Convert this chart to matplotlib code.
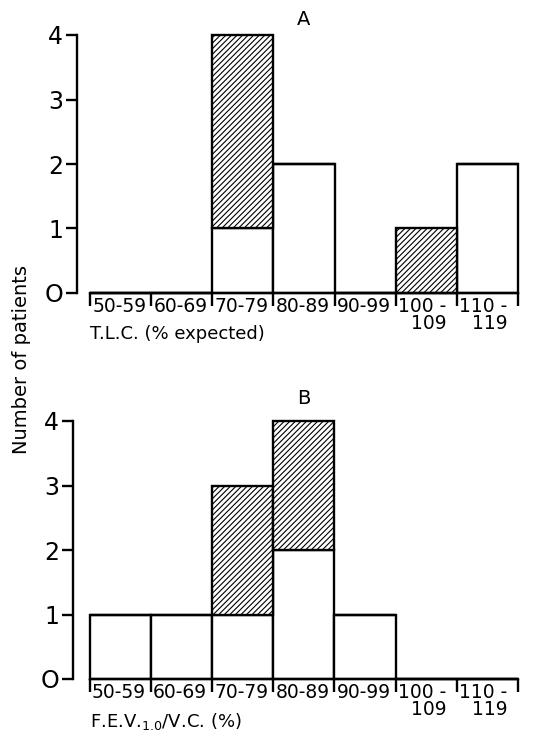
import numpy as np
import matplotlib.pyplot as plt

# class intervals (shared by both panels)
bins = ['50-59', '60-69', '70-79', '80-89', '90-99', '100 -\n109', '110 -\n119']

# panel A: T.L.C. (% expected)
a_open = [0, 0, 1, 2, 0, 0, 2]
a_hatched = [0, 0, 3, 0, 0, 1, 0]

# panel B: F.E.V.1.0 / V.C. (%)
b_open = [1, 1, 1, 2, 1, 0, 0]
b_hatched = [0, 0, 2, 2, 0, 0, 0]

plt.rcParams['hatch.linewidth'] = 0.8
W, H = 547, 739
fig = plt.figure(figsize=(W / 100, H / 100), dpi=100)


def panel(rect, xleft, open_, hatched, title, title_y, xlabel):
    ax = fig.add_axes(rect)
    x = np.arange(len(bins))
    ax.bar(x, open_, width=1, align='edge', color='white', edgecolor='black',
           linewidth=1.7, clip_on=False)
    ax.bar(x, hatched, bottom=open_, width=1, align='edge', color='white',
           edgecolor='black', hatch='//////', linewidth=1.7, clip_on=False)

    ax.set_xlim(xleft, len(bins))
    ax.set_ylim(0, 4)
    for s in ['top', 'right']:
        ax.spines[s].set_visible(False)
    ax.spines['left'].set_bounds(0, 4)
    ax.spines['bottom'].set_bounds(0, len(bins))
    for s in ['left', 'bottom']:
        ax.spines[s].set_linewidth(1.7)

    ax.set_yticks([0, 1, 2, 3, 4])
    ax.set_yticklabels(['O', '1', '2', '3', '4'])
    ax.tick_params(axis='y', length=8, width=1.7, labelsize=17, pad=2)
    ax.set_xticks(np.arange(len(bins) + 1))
    ax.set_xticklabels([])
    ax.tick_params(axis='x', length=9, width=1.7, direction='out')

    for i, lab in enumerate(bins):
        ax.text(i + 0.04, -0.06, lab, ha='left', va='top', fontsize=13.5,
                multialignment='right', linespacing=0.9)
    ax.text(0, -0.5, xlabel, ha='left', va='top', fontsize=13)
    ax.text(3.5, title_y, title, ha='center', va='bottom', fontsize=14)
    return ax


panel([77 / W, 1 - 293 / H, 441 / W, 258 / H], -0.21, a_open, a_hatched,
      'A', 4.1, 'T.L.C. (% expected)')
panel([73 / W, 1 - 679 / H, 445 / W, 258 / H], -0.27, b_open, b_hatched,
      'B', 4.2, r'F.E.V.$_{\mathregular{1.0}}$/V.C. (%)')

fig.text(22 / W, 1 - 360 / H, 'Number of patients', rotation=90,
         ha='center', va='center', fontsize=14)

fig.savefig('out.png', dpi=100)
